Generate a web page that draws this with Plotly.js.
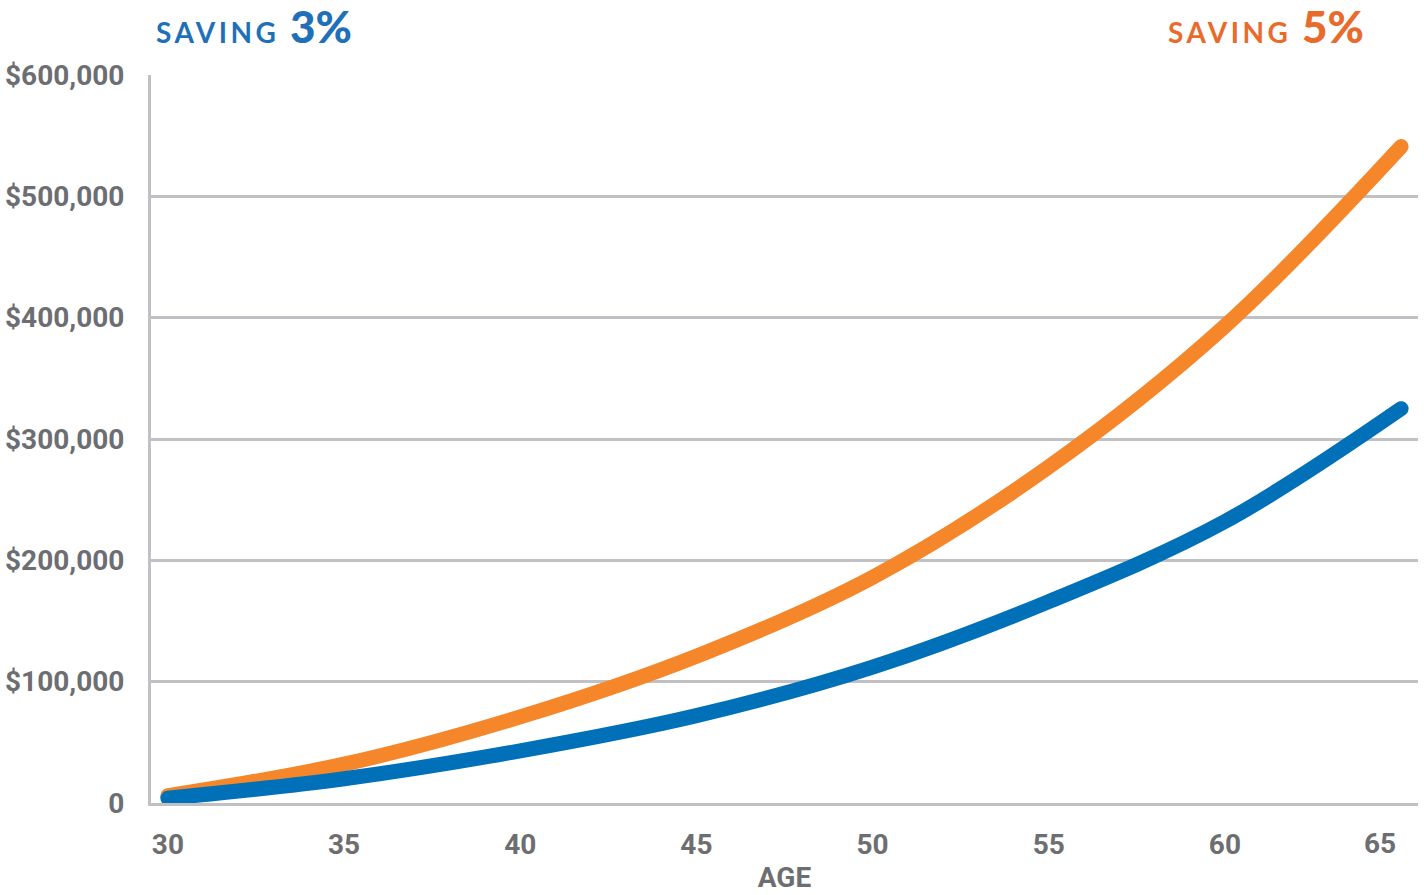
<!DOCTYPE html>
<html>
<head>
<meta charset="utf-8">
<script src="https://cdn.plot.ly/plotly-3.0.1.min.js"></script>
<style>
  html, body { margin: 0; padding: 0; background: #fff; }
  #chart { width: 1424px; height: 895px; }
  .scatterlayer path.js-line { stroke-linecap: round; }
</style>
</head>
<body>
<div id="chart"></div>
<script>
// Data
const ages = [30, 35, 40, 45, 50, 55, 60, 65];
const saving3 = [4000, 20000, 43000, 72000, 112000, 166000, 232000, 325000];
const saving5 = [6000, 32000, 71000, 121000, 186000, 277000, 393000, 541000];
const xTickVals = [30, 35, 40, 45, 50, 55, 60];
const xTickText = ['30', '35', '40', '45', '50', '55', '60'];
const lastAgeLabel = '65';
const yTickVals = [0, 100000, 200000, 300000, 400000, 500000, 600000];
const yTickText = ['0', '$100,000', '$200,000', '$300,000', '$400,000', '$500,000', '$600,000'];

const BLUE = '#0070b9';
const ORANGE = '#f5862a';
const GRAY = '#6d6e71';
const GRID = '#c1c1c5';
const TICKFONT = { family: 'Roboto, sans-serif', size: 28, color: GRAY, weight: 'bold' };

const traces = [
  {
    x: ages, y: saving5, type: 'scatter', mode: 'lines', name: 'Saving 5%',
    line: { color: ORANGE, width: 15, shape: 'spline', smoothing: 1 },
    hoverinfo: 'x+y'
  },
  {
    x: ages, y: saving3, type: 'scatter', mode: 'lines', name: 'Saving 3%',
    line: { color: BLUE, width: 15, shape: 'spline', smoothing: 1 },
    hoverinfo: 'x+y'
  }
];

const layout = {
  width: 1424, height: 895,
  margin: { l: 151, r: 6, t: 75, b: 92 },
  paper_bgcolor: '#fff', plot_bgcolor: '#fff',
  showlegend: false,
  font: { family: 'Roboto, sans-serif', color: GRAY },
  xaxis: {
    range: [29.52, 65.48],
    tickvals: xTickVals, ticktext: xTickText,
    tickfont: TICKFONT,
    ticks: '', ticklabelstandoff: 14,
    showgrid: false, zeroline: false,
    showline: true, linecolor: GRID, linewidth: 3,
    title: { text: 'AGE', font: TICKFONT, standoff: 8 }
  },
  yaxis: {
    range: [0, 600000],
    tickvals: yTickVals, ticktext: yTickText,
    tickfont: TICKFONT,
    ticks: '', ticklabelstandoff: 18,
    showgrid: true, gridcolor: GRID, gridwidth: 3,
    zeroline: false,
    showline: true, linecolor: GRID, linewidth: 3
  },
  annotations: [
    {
      xref: 'paper', yref: 'paper', x: 0, y: 1, xanchor: 'left', yanchor: 'middle',
      xshift: 3, yshift: 49, showarrow: false,
      font: { family: 'Lato, sans-serif', size: 44, color: '#1f6fb9', weight: 900 },
      text: '<span style="letter-spacing:3.5px;font-size:28px;font-weight:700">SAVING</span> 3%'
    },
    {
      xref: 'paper', yref: 'paper', x: 0.9566, y: 1, xanchor: 'right', yanchor: 'middle',
      xshift: 3, yshift: 49, showarrow: false,
      font: { family: 'Lato, sans-serif', size: 44, color: '#e96b2c', weight: 900 },
      text: '<span style="letter-spacing:3.5px;font-size:28px;font-weight:700">SAVING</span> 5%'
    },
    {
      xref: 'x', yref: 'paper', x: 65, y: 0, xanchor: 'center', yanchor: 'middle',
      xshift: -21, yshift: -40, showarrow: false,
      font: TICKFONT,
      text: lastAgeLabel
    }
  ]
};

Plotly.newPlot('chart', traces, layout, { displayModeBar: false, responsive: false });
</script>
</body>
</html>
